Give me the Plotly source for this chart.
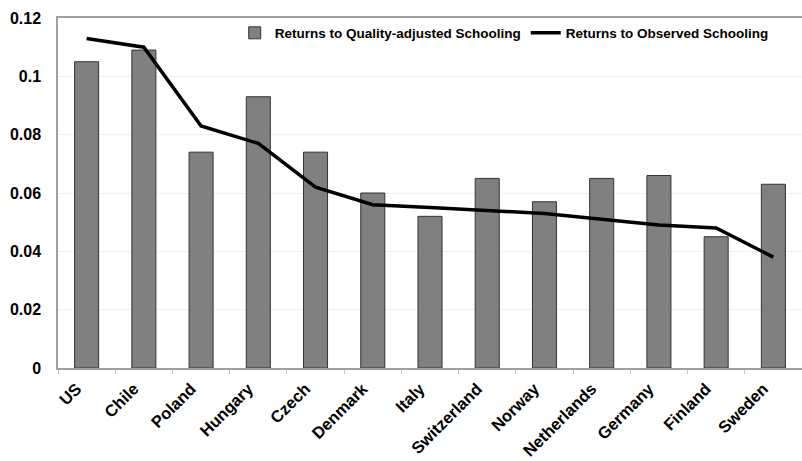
import plotly.graph_objects as go

countries = ["US", "Chile", "Poland", "Hungary", "Czech", "Denmark", "Italy",
             "Switzerland", "Norway", "Netherlands", "Germany", "Finland", "Sweden"]
quality_adjusted = [0.105, 0.109, 0.074, 0.093, 0.074, 0.060, 0.052,
                    0.065, 0.057, 0.065, 0.066, 0.045, 0.063]
observed = [0.113, 0.110, 0.083, 0.077, 0.062, 0.056, 0.055,
            0.054, 0.053, 0.051, 0.049, 0.048, 0.038]
y_ticks = [0, 0.02, 0.04, 0.06, 0.08, 0.1, 0.12]
y_tick_labels = ["0", "0.02", "0.04", "0.06", "0.08", "0.1", "0.12"]

FONT = "Liberation Sans, Arial, sans-serif"

fig = go.Figure()
fig.add_trace(go.Bar(
    x=countries, y=quality_adjusted,
    name="Returns to Quality-adjusted Schooling",
    marker=dict(color="#808080", line=dict(color="#333333", width=1)),
))
fig.add_trace(go.Scatter(
    x=countries, y=observed, mode="lines",
    name="Returns to Observed Schooling",
    line=dict(color="black", width=3.5),
))

fig.update_layout(
    width=802, height=461,
    margin=dict(l=58, r=0, t=18, b=93),
    paper_bgcolor="white", plot_bgcolor="white",
    bargap=0.58,
    font=dict(family=FONT, color="black"),
    showlegend=True,
    legend=dict(
        orientation="h", x=0.962, xanchor="right", y=0.957, yanchor="middle",
        font=dict(family=FONT, size=13.5, color="black", weight="bold"),
        bgcolor="rgba(0,0,0,0)", itemwidth=30, tracegroupgap=0,
        traceorder="normal", borderwidth=0,
    ),
)
fig.update_xaxes(
    tickangle=-45, tickfont=dict(family=FONT, size=16.5, weight="bold"),
    showline=True, linecolor="#a0a0a0", linewidth=1.5, mirror=True,
    ticks="outside", tickson="boundaries", ticklen=4, tickcolor="#c8c8c8",
    showgrid=False, automargin=False,
    ticklabelstandoff=3, ticklabelshift=-10,
)
fig.update_yaxes(
    range=[0, 0.12], tickvals=y_ticks, ticktext=y_tick_labels,
    tickfont=dict(family=FONT, size=16, weight="bold"),
    showline=True, linecolor="#a0a0a0", linewidth=1.5,
    showgrid=True, gridcolor="#f0f0f0", gridwidth=1,
    zeroline=False, ticks="", ticklabelstandoff=12, automargin=False,
)

fig.write_html(
    "out.html",
    config={"displayModeBar": False},
    post_script="document.body.style.margin='0';document.body.style.padding='0';",
)
